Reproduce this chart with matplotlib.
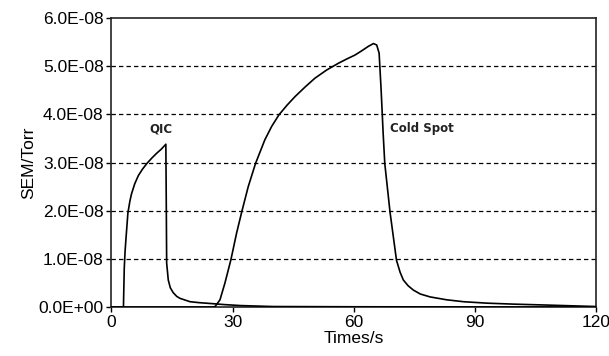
import matplotlib
matplotlib.use("Agg")
import matplotlib.pyplot as plt
import numpy as np

# QIC trace (time in s, SEM in 1e-8 Torr)
qic_t = [0, 2.9, 3.0, 3.2, 3.4, 3.6, 4.1, 4.6, 5.0, 5.8, 6.7, 7.7, 8.8, 10.0, 11.2, 12.4, 13.5,
         13.6, 13.7, 14.1, 14.6, 15.3, 16.2, 17.0, 19.5, 21.8, 25.0, 28.0, 32.0, 40.0, 60.0, 90.0, 120.0]
qic_v = [0, 0, 0.0, 0.8, 1.15, 1.39, 1.95, 2.2, 2.35, 2.56, 2.73, 2.86, 2.98, 3.09, 3.19, 3.28, 3.38,
         2.2, 0.91, 0.56, 0.4, 0.3, 0.22, 0.18, 0.11, 0.09, 0.07, 0.05, 0.03, 0.01, 0.005, 0.002, 0.0]

# Cold Spot trace
cs_t = [0, 25.0, 25.7, 26.9, 28.1, 29.6, 31.0, 32.3, 33.9, 35.7, 38.0, 39.7, 41.5, 43.5,
        45.5, 48.0, 50.4, 53.3, 56.2, 58.3, 60.3, 62.0, 63.6, 64.9, 65.7, 66.3, 66.8,
        67.3, 67.7, 69.0, 70.6, 71.5, 72.3, 73.5, 74.8, 76.5, 78.9, 83.0, 87.2, 93.0,
        99.5, 108.0, 116.0, 120.0]
cs_v = [0, 0, 0.01, 0.15, 0.49, 0.98, 1.53, 1.98, 2.50, 2.98, 3.47, 3.75, 3.99, 4.19,
        4.37, 4.57, 4.75, 4.92, 5.06, 5.15, 5.23, 5.32, 5.41, 5.47, 5.44, 5.27, 4.50,
        3.6, 2.98, 1.97, 0.97, 0.72, 0.56, 0.44, 0.35, 0.27, 0.21, 0.15, 0.11, 0.08,
        0.06, 0.04, 0.02, 0.01]

x_ticks = [0, 30, 60, 90, 120]
y_ticks = [0, 1e-8, 2e-8, 3e-8, 4e-8, 5e-8, 6e-8]
y_labels = ["0.0E+00", "1.0E-08", "2.0E-08", "3.0E-08", "4.0E-08", "5.0E-08", "6.0E-08"]

plt.rcParams['font.family'] = ['Liberation Sans', 'DejaVu Sans']

fig = plt.figure(figsize=(6.09, 3.56), dpi=100)
ax = fig.add_axes([0.1828, 0.1376, 0.9787 - 0.1828, 0.9494 - 0.1376])

scale = 1e-8
ax.plot(qic_t, np.array(qic_v) * scale, color='black', lw=1.2, zorder=3)
ax.plot(cs_t, np.array(cs_v) * scale, color='black', lw=1.2, zorder=3)

ax.set_xlim(0, 120)
ax.set_ylim(0, 6e-8)
ax.set_xticks(x_ticks)
ax.set_yticks(y_ticks)
ax.set_yticklabels(y_labels)
ax.tick_params(axis='both', labelsize=12.5, length=3.5, width=1, direction='out', pad=2)

for yv in y_ticks[1:-1]:
    ax.axhline(yv, color='black', lw=0.9, ls=(0, (3.5, 2.5)), zorder=1)

for s in ax.spines.values():
    s.set_linewidth(1.2)
    s.set_color('#222222')

ax.set_xlabel("Times/s", fontsize=12.5, labelpad=1)
ax.set_ylabel("SEM/Torr", fontsize=12.5, labelpad=2)

ax.text(12.4, 3.7e-8, "QIC", fontsize=8.5, fontweight='semibold', color='#222222',
        fontfamily='DejaVu Sans', ha='center', va='center')
ax.text(69.0, 3.7e-8, "Cold Spot", fontsize=8.5, fontweight='semibold', color='#222222',
        fontfamily='DejaVu Sans', ha='left', va='center')

fig.savefig("out.png", dpi=100)
